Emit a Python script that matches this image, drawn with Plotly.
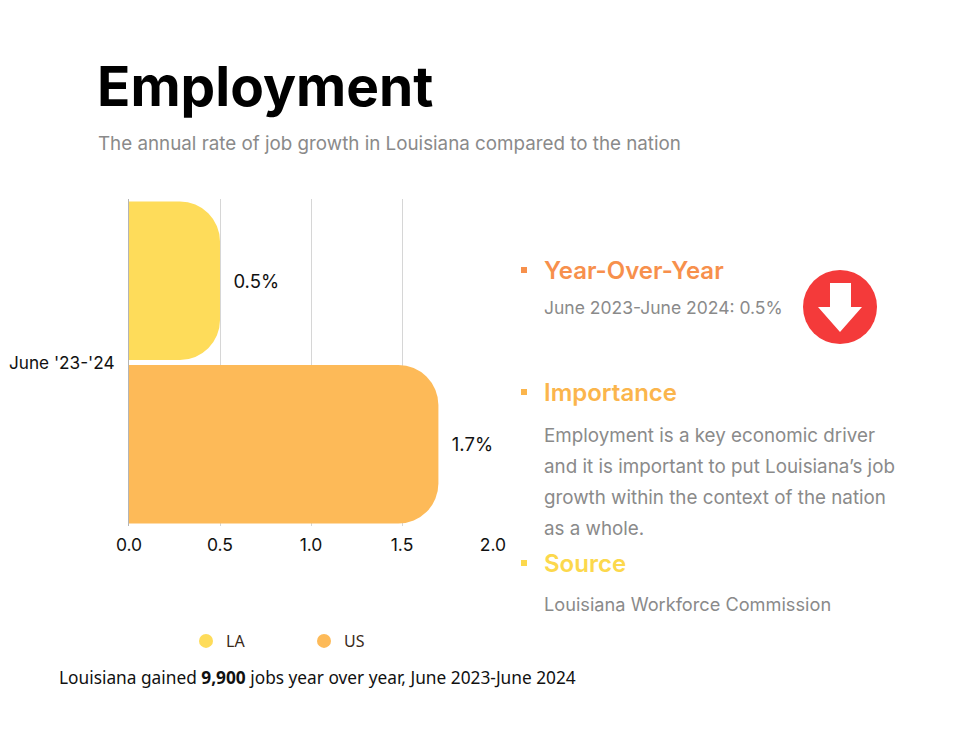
import plotly.graph_objects as go

# data
period = ["June '23-'24"]
series_names = ["LA", "US"]
la_growth = [0.5]
us_growth = [1.7]
x_ticks = [0.0, 0.5, 1.0, 1.5, 2.0]
colors = {"LA": "#FEDC5A", "US": "#FDBA58"}

# page geometry (pixels, as seen on screen; the page body adds an 8px offset)
W, H = 975, 731
OFF = 8
PL, PR, PT, PB = 129, 493, 199, 526          # plot area on screen
L, T = PL - OFF, PT - OFF
R, B = W - (PR - OFF), H - (PB - OFF)
PW, PH = PR - PL, PB - PT


def px(x):
    return (x - PL) / PW


def py(y):
    return (PB - y) / PH


FONT = "Inter"
GRAY = "#8a8a8a"

fig = go.Figure()

for name, vals in zip(series_names, [la_growth, us_growth]):
    fig.add_trace(go.Bar(
        y=period, x=vals, orientation="h", name=name,
        marker=dict(color=colors[name], cornerradius=40, line_width=0),
        text=[f"\u00a0\u00a0{v:.1f}%" for v in vals], textposition="outside",
        textfont=dict(family=FONT, size=18.5, color="#111111"),
        cliponaxis=False, showlegend=False,
    ))

# legend entries shown as circles
for name in series_names:
    fig.add_trace(go.Scatter(
        x=[None], y=[None], mode="markers", name=name,
        marker=dict(symbol="circle", size=14, color=colors[name]),
    ))

annotations = [
    dict(text="<b>Employment</b>", x=px(95), y=py(86), xanchor="left", yanchor="middle",
         font=dict(family=FONT, size=55, color="#000000")),
    dict(text="The annual rate of job growth in Louisiana compared to the nation",
         x=px(96), y=py(143), xanchor="left", yanchor="middle",
         font=dict(family=FONT, size=18.8, color=GRAY)),
    dict(text="Year-Over-Year", x=px(542), y=py(270), xanchor="left", yanchor="middle",
         font=dict(family=FONT, size=24, color="#F7904C", weight=600)),
    dict(text="June 2023-June 2024: 0.5%", x=px(542), y=py(307), xanchor="left", yanchor="middle",
         font=dict(family=FONT, size=17.5, color=GRAY)),
    dict(text="Importance", x=px(542), y=py(392), xanchor="left", yanchor="middle",
         font=dict(family=FONT, size=24, color="#FBB54C", weight=600)),
    dict(text="Source", x=px(542), y=py(563), xanchor="left", yanchor="middle",
         font=dict(family=FONT, size=24, color="#FCD84C", weight=600)),
    dict(text="Louisiana Workforce Commission", x=px(542), y=py(604), xanchor="left", yanchor="middle",
         font=dict(family=FONT, size=18.2, color=GRAY)),
    dict(text="Louisiana gained <b>9,900</b> jobs year over year, June 2023-June 2024",
         x=px(57), y=py(677), xanchor="left", yanchor="middle",
         font=dict(family="Noto Sans", size=17.3, color="#111111")),
]

body_lines = [
    "Employment is a key economic driver",
    "and it is important to put Louisiana’s job",
    "growth within the context of the nation",
    "as a whole.",
]
for i, line in enumerate(body_lines):
    annotations.append(dict(text=line, x=px(542), y=py(435 + 31 * i), xanchor="left", yanchor="middle",
                            font=dict(family=FONT, size=18.8, color=GRAY)))

for a in annotations:
    a.update(xref="paper", yref="paper", showarrow=False)

shapes = []
# bullets
for yc, col in [(270, "#F7904C"), (392, "#FBB54C"), (563, "#FCD84C")]:
    shapes.append(dict(type="rect", xref="paper", yref="paper", x0=px(521), x1=px(527),
                       y0=py(yc - 3), y1=py(yc + 3), fillcolor=col, line_width=0))

# red down-arrow icon
cx, cy, r = 840, 307, 37
shapes.append(dict(type="circle", xref="paper", yref="paper", x0=px(cx - r), x1=px(cx + r),
                   y0=py(cy + r), y1=py(cy - r), fillcolor="#F43A3A", line_width=0))
pts = [(830, 283), (851, 283), (851, 307), (862, 307), (840, 332), (818, 307), (830, 307)]
path = "M " + " L ".join(f"{px(x):.5f},{py(y):.5f}" for x, y in pts) + " Z"
shapes.append(dict(type="path", xref="paper", yref="paper", path=path,
                   fillcolor="#FFFFFF", line_width=0))

fig.update_layout(
    width=W, height=H,
    margin=dict(l=L, r=R, t=T, b=B, autoexpand=False),
    paper_bgcolor="white", plot_bgcolor="white",
    barmode="group", bargap=0.0, bargroupgap=0.03,
    font=dict(family=FONT, color="#111111"),
    xaxis=dict(range=[0, 2.0], tickvals=x_ticks, tickformat=".1f",
               showgrid=True, gridcolor="#d6d6d6", gridwidth=1,
               zeroline=False, showline=False, ticks="",
               tickfont=dict(family=FONT, size=17.5, color="#111111"),
               ticklabelstandoff=6),
    yaxis=dict(type="category", range=[0.5, -0.5], showgrid=False, ticks="",
               showline=True, linecolor="#b5b5b5", linewidth=1,
               tickfont=dict(family=FONT, size=17.2, color="#111111"),
               ticklabelstandoff=10),
    legend=dict(orientation="h", x=px(186), y=py(641), xanchor="left", yanchor="middle",
                xref="paper", yref="paper", entrywidth=73, entrywidthmode="pixels",
                font=dict(family="Noto Sans", size=16, color="#3a2a1a")),
    annotations=annotations,
    shapes=shapes,
)

fig.write_html("out.html")
